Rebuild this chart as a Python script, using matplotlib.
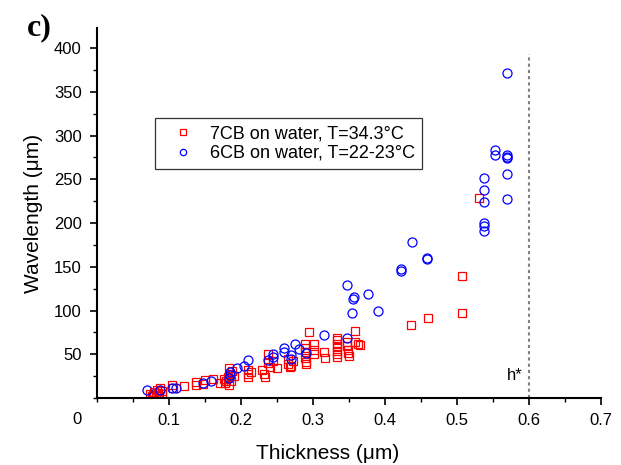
import matplotlib
matplotlib.use("Agg")
import matplotlib.pyplot as plt
from matplotlib.ticker import MultipleLocator

plt.rcParams["font.family"] = ["Liberation Sans", "DejaVu Sans"]

# 7CB on water, T=34.3 C
red_x = [0.074, 0.076, 0.078, 0.080, 0.082, 0.083, 0.085, 0.086, 0.088, 0.090, 0.090,
         0.104, 0.106, 0.121, 0.1375, 0.1375, 0.150, 0.148, 0.161, 0.171,
         0.176, 0.178, 0.180, 0.182, 0.183, 0.185, 0.186, 0.188, 0.190, 0.184,
         0.210, 0.210, 0.210, 0.214,
         0.230, 0.232, 0.234, 0.237, 0.237, 0.240, 0.245, 0.250,
         0.266, 0.266, 0.268, 0.270, 0.272,
         0.289, 0.289, 0.289, 0.289, 0.290, 0.290,
         0.295, 0.301, 0.301, 0.301,
         0.316, 0.317,
         0.333, 0.333, 0.333, 0.333, 0.333, 0.333, 0.334,
         0.348, 0.348, 0.349, 0.349, 0.350,
         0.358, 0.359, 0.362, 0.365,
         0.436, 0.460, 0.507, 0.507, 0.531]
red_y = [5, 2, 4, 7, 3, 9, 6, 2, 11, 8, 5,
         15, 11, 14, 18, 15, 21, 16, 22, 17,
         22, 17, 20, 24, 15, 28, 19, 31, 25, 34,
         32, 27, 24, 30,
         32, 27, 24, 50, 40, 36, 42, 34,
         45, 39, 35, 37, 42,
         62, 57, 53, 46, 41, 39,
         75, 62, 55, 50,
         53, 46,
         69, 66, 62, 58, 54, 50, 47,
         64, 60, 55, 51, 48,
         77, 64, 62, 61,
         83, 92, 97, 139, 229]

# 6CB on water, T=22-23 C
blue_x = [0.070, 0.088, 0.104, 0.110, 0.147, 0.159,
          0.185, 0.185, 0.184, 0.195, 0.204, 0.210,
          0.237, 0.245, 0.245, 0.260, 0.260, 0.270, 0.270, 0.275, 0.281, 0.291,
          0.316, 0.348, 0.348, 0.355, 0.356, 0.357, 0.377, 0.390,
          0.422, 0.422, 0.437, 0.458, 0.459,
          0.5375, 0.5375, 0.5375, 0.5375, 0.5375, 0.5375,
          0.553, 0.553, 0.569, 0.569, 0.569, 0.569, 0.569, 0.569]
blue_y = [9, 9, 12, 12, 17, 19,
          30, 26, 23, 34, 37, 43,
          44, 50, 47, 57, 53, 49, 45, 62, 56, 52,
          72, 69, 129, 97, 113, 115, 119, 100,
          148, 145, 178, 159, 160,
          252, 238, 224, 200, 197, 191,
          283, 278, 278, 276, 274, 256, 227, 371]

h_star = 0.6

fig = plt.figure(figsize=(6.21, 4.65), dpi=100)
ax = fig.add_axes([0.156, 0.144, 0.8116, 0.796])

ax.plot(red_x, red_y, "s", ms=6, mfc="none", mec="red", mew=0.9,
        label="7CB on water, T=34.3°C")
ax.plot(blue_x, blue_y, "o", ms=6.5, mfc="none", mec="blue", mew=0.9,
        label="6CB on water, T=22-23°C")

ax.plot([h_star, h_star], [0, 393], color="gray", ls=(0, (1.5, 1.5)), lw=1.5)
ax.text(0.591, 26, "h*", ha="right", va="center", fontsize=12)

ax.set_xlim(0, 0.7)
ax.set_ylim(0, 423)
ax.xaxis.set_major_locator(MultipleLocator(0.1))
ax.xaxis.set_minor_locator(MultipleLocator(0.05))
ax.set_yticks([50, 100, 150, 200, 250, 300, 350, 400])
ax.yaxis.set_minor_locator(MultipleLocator(25))
ax.set_xticks([0.1, 0.2, 0.3, 0.4, 0.5, 0.6, 0.7])
ax.set_xticklabels(["0.1", "0.2", "0.3", "0.4", "0.5", "0.6", "0.7"])

for s in ["top", "right"]:
    ax.spines[s].set_visible(False)
for s in ["left", "bottom"]:
    ax.spines[s].set_linewidth(1.5)

ax.tick_params(which="major", direction="out", length=5, width=1.2, labelsize=12, pad=6)
ax.tick_params(which="minor", direction="out", length=3, width=1.0)

ax.text(-0.028, -25, "0", ha="center", va="center", fontsize=12)

ax.set_xlabel("Thickness (μm)", fontsize=15)
ax.xaxis.set_label_coords(0.457, -0.125)
ax.set_ylabel("Wavelength (μm)", fontsize=15, labelpad=8)

fig.text(27 / 621, 1 - 28 / 465, "c)", fontsize=23, fontweight="bold",
         family="Liberation Serif", ha="left", va="center")

leg = ax.legend(loc="upper left", bbox_to_anchor=(155 / 621, 1 - 118 / 465),
                bbox_transform=fig.transFigure, borderaxespad=0, fontsize=13,
                fancybox=False, markerscale=0.7, handlelength=2.3,
                handletextpad=0.35, borderpad=0.4, labelspacing=0.15)
leg.get_frame().set_edgecolor("black")
leg.get_frame().set_linewidth(0.9)

fig.savefig("out.png", dpi=100)
